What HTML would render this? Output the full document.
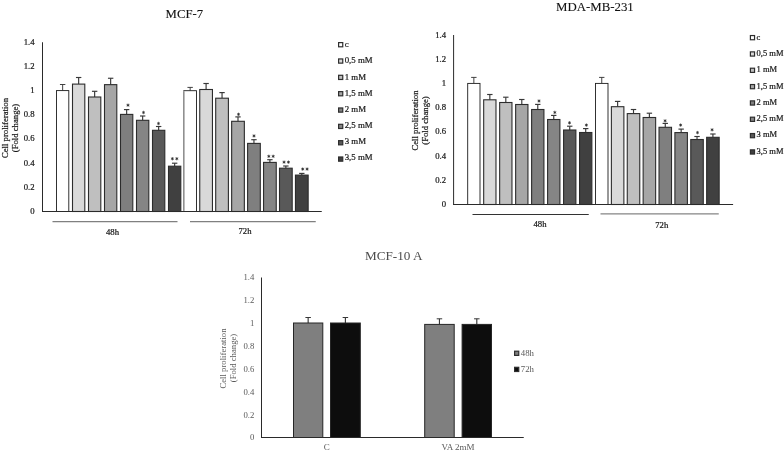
<!DOCTYPE html>
<html><head><meta charset="utf-8"><title>Cell proliferation</title>
<style>
html,body{margin:0;padding:0;background:#fff;}
body{width:784px;height:453px;overflow:hidden;font-family:"Liberation Serif",serif;}
svg{display:block;filter:grayscale(1);}
svg text{font-family:"Liberation Serif",serif;}
</style></head>
<body>
<svg width="784" height="453" viewBox="0 0 784 453">
<rect x="0" y="0" width="784" height="453" fill="#ffffff"/>
<text x="184.4" y="17.9" font-size="12.75" text-anchor="middle" fill="#111" stroke="#111" stroke-width="0.1" >MCF-7</text>
<text x="34.6" y="44.85" font-size="8.7" text-anchor="end" fill="#1a1a1a" stroke="#1a1a1a" stroke-width="0.22" >1.4</text>
<text x="34.6" y="68.99" font-size="8.7" text-anchor="end" fill="#1a1a1a" stroke="#1a1a1a" stroke-width="0.22" >1.2</text>
<text x="34.6" y="93.12" font-size="8.7" text-anchor="end" fill="#1a1a1a" stroke="#1a1a1a" stroke-width="0.22" >1</text>
<text x="34.6" y="117.26" font-size="8.7" text-anchor="end" fill="#1a1a1a" stroke="#1a1a1a" stroke-width="0.22" >0.8</text>
<text x="34.6" y="141.39" font-size="8.7" text-anchor="end" fill="#1a1a1a" stroke="#1a1a1a" stroke-width="0.22" >0.6</text>
<text x="34.6" y="165.53" font-size="8.7" text-anchor="end" fill="#1a1a1a" stroke="#1a1a1a" stroke-width="0.22" >0.4</text>
<text x="34.6" y="189.66" font-size="8.7" text-anchor="end" fill="#1a1a1a" stroke="#1a1a1a" stroke-width="0.22" >0.2</text>
<text x="34.6" y="213.8" font-size="8.7" text-anchor="end" fill="#1a1a1a" stroke="#1a1a1a" stroke-width="0.22" >0</text>
<line x1="62.65" y1="90.6" x2="62.65" y2="84.5" stroke="#383838" stroke-width="0.95"/>
<line x1="59.95" y1="84.5" x2="65.35" y2="84.5" stroke="#383838" stroke-width="0.95"/>
<rect x="56.5" y="90.6" width="12.3" height="120.9" fill="#ffffff" stroke="#1c1c1c" stroke-width="0.9"/>
<line x1="78.65" y1="84.1" x2="78.65" y2="77.5" stroke="#383838" stroke-width="1.15"/>
<line x1="75.95" y1="77.5" x2="81.35" y2="77.5" stroke="#383838" stroke-width="1.15"/>
<rect x="72.5" y="84.1" width="12.3" height="127.4" fill="#d9d9d9" stroke="#2c2c2c" stroke-width="1.1"/>
<line x1="94.65" y1="97.0" x2="94.65" y2="91.3" stroke="#383838" stroke-width="1.15"/>
<line x1="91.95" y1="91.3" x2="97.35" y2="91.3" stroke="#383838" stroke-width="1.15"/>
<rect x="88.5" y="97.0" width="12.3" height="114.5" fill="#bfbfbf" stroke="#2c2c2c" stroke-width="1.1"/>
<line x1="110.65" y1="84.65" x2="110.65" y2="78.25" stroke="#383838" stroke-width="1.15"/>
<line x1="107.95" y1="78.25" x2="113.35" y2="78.25" stroke="#383838" stroke-width="1.15"/>
<rect x="104.5" y="84.65" width="12.3" height="126.85" fill="#a6a6a6" stroke="#2c2c2c" stroke-width="1.1"/>
<line x1="126.65" y1="114.4" x2="126.65" y2="109.6" stroke="#383838" stroke-width="1.15"/>
<line x1="123.95" y1="109.6" x2="129.35" y2="109.6" stroke="#383838" stroke-width="1.15"/>
<rect x="120.5" y="114.4" width="12.3" height="97.1" fill="#7f7f7f" stroke="#2c2c2c" stroke-width="1.1"/>
<line x1="142.65" y1="120.3" x2="142.65" y2="116.0" stroke="#383838" stroke-width="1.15"/>
<line x1="139.95" y1="116.0" x2="145.35" y2="116.0" stroke="#383838" stroke-width="1.15"/>
<rect x="136.5" y="120.3" width="12.3" height="91.2" fill="#858585" stroke="#2c2c2c" stroke-width="1.1"/>
<line x1="158.65" y1="130.3" x2="158.65" y2="126.5" stroke="#383838" stroke-width="1.15"/>
<line x1="155.95" y1="126.5" x2="161.35" y2="126.5" stroke="#383838" stroke-width="1.15"/>
<rect x="152.5" y="130.3" width="12.3" height="81.2" fill="#595959" stroke="#2c2c2c" stroke-width="1.1"/>
<line x1="174.65" y1="166.2" x2="174.65" y2="163.2" stroke="#383838" stroke-width="1.15"/>
<line x1="171.95" y1="163.2" x2="177.35" y2="163.2" stroke="#383838" stroke-width="1.15"/>
<rect x="168.5" y="166.2" width="12.3" height="45.3" fill="#404040" stroke="#2c2c2c" stroke-width="1.1"/>
<line x1="190.15" y1="90.7" x2="190.15" y2="87.4" stroke="#383838" stroke-width="0.95"/>
<line x1="187.45" y1="87.4" x2="192.85" y2="87.4" stroke="#383838" stroke-width="0.95"/>
<rect x="183.8" y="90.7" width="12.7" height="120.8" fill="#ffffff" stroke="#1c1c1c" stroke-width="0.9"/>
<line x1="183.8" y1="91.3" x2="183.8" y2="210.9" stroke="#ffffff" stroke-width="1.3"/>
<line x1="183.8" y1="91.3" x2="183.8" y2="210.9" stroke="#6a6a6a" stroke-width="1.0"/>
<line x1="206.1" y1="89.5" x2="206.1" y2="83.5" stroke="#383838" stroke-width="1.15"/>
<line x1="203.4" y1="83.5" x2="208.8" y2="83.5" stroke="#383838" stroke-width="1.15"/>
<rect x="199.75" y="89.5" width="12.7" height="122.0" fill="#d9d9d9" stroke="#2c2c2c" stroke-width="1.1"/>
<line x1="222.05" y1="98.2" x2="222.05" y2="92.6" stroke="#383838" stroke-width="1.15"/>
<line x1="219.35" y1="92.6" x2="224.75" y2="92.6" stroke="#383838" stroke-width="1.15"/>
<rect x="215.7" y="98.2" width="12.7" height="113.3" fill="#bfbfbf" stroke="#2c2c2c" stroke-width="1.1"/>
<line x1="238.0" y1="121.3" x2="238.0" y2="116.9" stroke="#383838" stroke-width="1.15"/>
<line x1="235.3" y1="116.9" x2="240.7" y2="116.9" stroke="#383838" stroke-width="1.15"/>
<rect x="231.65" y="121.3" width="12.7" height="90.2" fill="#a6a6a6" stroke="#2c2c2c" stroke-width="1.1"/>
<line x1="253.95" y1="143.4" x2="253.95" y2="139.7" stroke="#383838" stroke-width="1.15"/>
<line x1="251.25" y1="139.7" x2="256.65" y2="139.7" stroke="#383838" stroke-width="1.15"/>
<rect x="247.6" y="143.4" width="12.7" height="68.1" fill="#7f7f7f" stroke="#2c2c2c" stroke-width="1.1"/>
<line x1="269.9" y1="162.4" x2="269.9" y2="159.7" stroke="#383838" stroke-width="1.15"/>
<line x1="267.2" y1="159.7" x2="272.6" y2="159.7" stroke="#383838" stroke-width="1.15"/>
<rect x="263.55" y="162.4" width="12.7" height="49.1" fill="#858585" stroke="#2c2c2c" stroke-width="1.1"/>
<line x1="285.85" y1="168.2" x2="285.85" y2="166.0" stroke="#383838" stroke-width="1.15"/>
<line x1="283.15" y1="166.0" x2="288.55" y2="166.0" stroke="#383838" stroke-width="1.15"/>
<rect x="279.5" y="168.2" width="12.7" height="43.3" fill="#595959" stroke="#2c2c2c" stroke-width="1.1"/>
<line x1="301.8" y1="175.1" x2="301.8" y2="173.4" stroke="#383838" stroke-width="1.15"/>
<line x1="299.1" y1="173.4" x2="304.5" y2="173.4" stroke="#383838" stroke-width="1.15"/>
<rect x="295.45" y="175.1" width="12.7" height="36.4" fill="#404040" stroke="#2c2c2c" stroke-width="1.1"/>
<line x1="42.5" y1="42.25" x2="42.5" y2="212.0" stroke="#2a2a2a" stroke-width="1"/>
<line x1="42" y1="211.5" x2="321.75" y2="211.5" stroke="#2a2a2a" stroke-width="1"/>
<line x1="52.5" y1="221.5" x2="177.5" y2="221.5" stroke="#808080" stroke-width="1.25"/>
<line x1="190" y1="221.5" x2="315.75" y2="221.5" stroke="#808080" stroke-width="1.25"/>
<text x="112.5" y="234.6" font-size="8.7" text-anchor="middle" fill="#1a1a1a" stroke="#1a1a1a" stroke-width="0.22" >48h</text>
<text x="245" y="233.6" font-size="8.7" text-anchor="middle" fill="#1a1a1a" stroke="#1a1a1a" stroke-width="0.22" >72h</text>
<text transform="translate(7.5,128) rotate(-90)" font-size="8.7" text-anchor="middle" fill="#1a1a1a" stroke="#1a1a1a" stroke-width="0.22">Cell proliferation</text>
<text transform="translate(17.5,128) rotate(-90)" font-size="8.7" text-anchor="middle" fill="#1a1a1a" stroke="#1a1a1a" stroke-width="0.22">(Fold change)</text>
<path d="M128.00 105.20L128.00 103.90M128.00 105.20L126.87 104.55M128.00 105.20L126.87 105.85M128.00 105.20L128.00 106.50M128.00 105.20L129.13 105.85M128.00 105.20L129.13 104.55" stroke="#333333" stroke-width="0.7" stroke-linecap="round" fill="none"/>
<circle cx="128.00" cy="105.20" r="0.75" fill="#333333"/>
<path d="M143.50 112.50L143.50 111.20M143.50 112.50L142.37 111.85M143.50 112.50L142.37 113.15M143.50 112.50L143.50 113.80M143.50 112.50L144.63 113.15M143.50 112.50L144.63 111.85" stroke="#333333" stroke-width="0.7" stroke-linecap="round" fill="none"/>
<circle cx="143.50" cy="112.50" r="0.75" fill="#333333"/>
<path d="M158.50 123.50L158.50 122.20M158.50 123.50L157.37 122.85M158.50 123.50L157.37 124.15M158.50 123.50L158.50 124.80M158.50 123.50L159.63 124.15M158.50 123.50L159.63 122.85" stroke="#333333" stroke-width="0.7" stroke-linecap="round" fill="none"/>
<circle cx="158.50" cy="123.50" r="0.75" fill="#333333"/>
<path d="M172.40 158.70L172.40 157.40M172.40 158.70L171.27 158.05M172.40 158.70L171.27 159.35M172.40 158.70L172.40 160.00M172.40 158.70L173.53 159.35M172.40 158.70L173.53 158.05" stroke="#333333" stroke-width="0.7" stroke-linecap="round" fill="none"/>
<circle cx="172.40" cy="158.70" r="0.75" fill="#333333"/>
<path d="M176.80 158.70L176.80 157.40M176.80 158.70L175.67 158.05M176.80 158.70L175.67 159.35M176.80 158.70L176.80 160.00M176.80 158.70L177.93 159.35M176.80 158.70L177.93 158.05" stroke="#333333" stroke-width="0.7" stroke-linecap="round" fill="none"/>
<circle cx="176.80" cy="158.70" r="0.75" fill="#333333"/>
<path d="M238.50 114.35L238.50 113.05M238.50 114.35L237.37 113.70M238.50 114.35L237.37 115.00M238.50 114.35L238.50 115.65M238.50 114.35L239.63 115.00M238.50 114.35L239.63 113.70" stroke="#333333" stroke-width="0.7" stroke-linecap="round" fill="none"/>
<circle cx="238.50" cy="114.35" r="0.75" fill="#333333"/>
<path d="M254.00 135.90L254.00 134.60M254.00 135.90L252.87 135.25M254.00 135.90L252.87 136.55M254.00 135.90L254.00 137.20M254.00 135.90L255.13 136.55M254.00 135.90L255.13 135.25" stroke="#333333" stroke-width="0.7" stroke-linecap="round" fill="none"/>
<circle cx="254.00" cy="135.90" r="0.75" fill="#333333"/>
<path d="M268.80 156.35L268.80 155.05M268.80 156.35L267.67 155.70M268.80 156.35L267.67 157.00M268.80 156.35L268.80 157.65M268.80 156.35L269.93 157.00M268.80 156.35L269.93 155.70" stroke="#333333" stroke-width="0.7" stroke-linecap="round" fill="none"/>
<circle cx="268.80" cy="156.35" r="0.75" fill="#333333"/>
<path d="M273.20 156.35L273.20 155.05M273.20 156.35L272.07 155.70M273.20 156.35L272.07 157.00M273.20 156.35L273.20 157.65M273.20 156.35L274.33 157.00M273.20 156.35L274.33 155.70" stroke="#333333" stroke-width="0.7" stroke-linecap="round" fill="none"/>
<circle cx="273.20" cy="156.35" r="0.75" fill="#333333"/>
<path d="M284.05 162.15L284.05 160.85M284.05 162.15L282.92 161.50M284.05 162.15L282.92 162.80M284.05 162.15L284.05 163.45M284.05 162.15L285.18 162.80M284.05 162.15L285.18 161.50" stroke="#333333" stroke-width="0.7" stroke-linecap="round" fill="none"/>
<circle cx="284.05" cy="162.15" r="0.75" fill="#333333"/>
<path d="M288.45 162.15L288.45 160.85M288.45 162.15L287.32 161.50M288.45 162.15L287.32 162.80M288.45 162.15L288.45 163.45M288.45 162.15L289.58 162.80M288.45 162.15L289.58 161.50" stroke="#333333" stroke-width="0.7" stroke-linecap="round" fill="none"/>
<circle cx="288.45" cy="162.15" r="0.75" fill="#333333"/>
<path d="M302.70 169.10L302.70 167.80M302.70 169.10L301.57 168.45M302.70 169.10L301.57 169.75M302.70 169.10L302.70 170.40M302.70 169.10L303.83 169.75M302.70 169.10L303.83 168.45" stroke="#333333" stroke-width="0.7" stroke-linecap="round" fill="none"/>
<circle cx="302.70" cy="169.10" r="0.75" fill="#333333"/>
<path d="M307.10 169.10L307.10 167.80M307.10 169.10L305.97 168.45M307.10 169.10L305.97 169.75M307.10 169.10L307.10 170.40M307.10 169.10L308.23 169.75M307.10 169.10L308.23 168.45" stroke="#333333" stroke-width="0.7" stroke-linecap="round" fill="none"/>
<circle cx="307.10" cy="169.10" r="0.75" fill="#333333"/>
<rect x="338.6" y="42.6" width="4.15" height="4.2" fill="#ffffff" stroke="#2e2e2e" stroke-width="1.2"/>
<text x="344.7" y="46.6" font-size="8.8" text-anchor="start" fill="#1a1a1a" stroke="#1a1a1a" stroke-width="0.22" >c</text>
<rect x="338.6" y="58.94" width="4.15" height="4.2" fill="#d9d9d9" stroke="#2e2e2e" stroke-width="1.2"/>
<text x="344.7" y="63.0" font-size="8.8" text-anchor="start" fill="#1a1a1a" stroke="#1a1a1a" stroke-width="0.22" >0,5 mM</text>
<rect x="338.6" y="75.28" width="4.15" height="4.2" fill="#bfbfbf" stroke="#2e2e2e" stroke-width="1.2"/>
<text x="344.7" y="79.5" font-size="8.8" text-anchor="start" fill="#1a1a1a" stroke="#1a1a1a" stroke-width="0.22" >1 mM</text>
<rect x="338.6" y="91.62" width="4.15" height="4.2" fill="#a6a6a6" stroke="#2e2e2e" stroke-width="1.2"/>
<text x="344.7" y="95.7" font-size="8.8" text-anchor="start" fill="#1a1a1a" stroke="#1a1a1a" stroke-width="0.22" >1,5 mM</text>
<rect x="338.6" y="107.96" width="4.15" height="4.2" fill="#7f7f7f" stroke="#2e2e2e" stroke-width="1.2"/>
<text x="344.7" y="111.9" font-size="8.8" text-anchor="start" fill="#1a1a1a" stroke="#1a1a1a" stroke-width="0.22" >2 mM</text>
<rect x="338.6" y="124.3" width="4.15" height="4.2" fill="#858585" stroke="#2e2e2e" stroke-width="1.2"/>
<text x="344.7" y="128.0" font-size="8.8" text-anchor="start" fill="#1a1a1a" stroke="#1a1a1a" stroke-width="0.22" >2,5 mM</text>
<rect x="338.6" y="140.64" width="4.15" height="4.2" fill="#595959" stroke="#2e2e2e" stroke-width="1.2"/>
<text x="344.7" y="143.9" font-size="8.8" text-anchor="start" fill="#1a1a1a" stroke="#1a1a1a" stroke-width="0.22" >3 mM</text>
<rect x="338.6" y="156.98" width="4.15" height="4.2" fill="#404040" stroke="#2e2e2e" stroke-width="1.2"/>
<text x="344.7" y="160.3" font-size="8.8" text-anchor="start" fill="#1a1a1a" stroke="#1a1a1a" stroke-width="0.22" >3,5 mM</text>
<text x="594.9" y="11.0" font-size="12.85" text-anchor="middle" fill="#111" stroke="#111" stroke-width="0.1" >MDA-MB-231</text>
<text x="446.0" y="37.5" font-size="8.7" text-anchor="end" fill="#1a1a1a" stroke="#1a1a1a" stroke-width="0.22" >1.4</text>
<text x="446.0" y="61.71" font-size="8.7" text-anchor="end" fill="#1a1a1a" stroke="#1a1a1a" stroke-width="0.22" >1.2</text>
<text x="446.0" y="85.93" font-size="8.7" text-anchor="end" fill="#1a1a1a" stroke="#1a1a1a" stroke-width="0.22" >1</text>
<text x="446.0" y="110.14" font-size="8.7" text-anchor="end" fill="#1a1a1a" stroke="#1a1a1a" stroke-width="0.22" >0.8</text>
<text x="446.0" y="134.36" font-size="8.7" text-anchor="end" fill="#1a1a1a" stroke="#1a1a1a" stroke-width="0.22" >0.6</text>
<text x="446.0" y="158.57" font-size="8.7" text-anchor="end" fill="#1a1a1a" stroke="#1a1a1a" stroke-width="0.22" >0.4</text>
<text x="446.0" y="182.79" font-size="8.7" text-anchor="end" fill="#1a1a1a" stroke="#1a1a1a" stroke-width="0.22" >0.2</text>
<text x="446.0" y="207.0" font-size="8.7" text-anchor="end" fill="#1a1a1a" stroke="#1a1a1a" stroke-width="0.22" >0</text>
<line x1="473.85" y1="83.4" x2="473.85" y2="77.4" stroke="#383838" stroke-width="0.95"/>
<line x1="471.15" y1="77.4" x2="476.55" y2="77.4" stroke="#383838" stroke-width="0.95"/>
<rect x="467.7" y="83.4" width="12.3" height="121.1" fill="#ffffff" stroke="#1c1c1c" stroke-width="0.9"/>
<line x1="489.83" y1="99.8" x2="489.83" y2="94.5" stroke="#383838" stroke-width="1.15"/>
<line x1="487.13" y1="94.5" x2="492.53" y2="94.5" stroke="#383838" stroke-width="1.15"/>
<rect x="483.68" y="99.8" width="12.3" height="104.7" fill="#d9d9d9" stroke="#2c2c2c" stroke-width="1.1"/>
<line x1="505.81" y1="102.5" x2="505.81" y2="97.2" stroke="#383838" stroke-width="1.15"/>
<line x1="503.11" y1="97.2" x2="508.51" y2="97.2" stroke="#383838" stroke-width="1.15"/>
<rect x="499.66" y="102.5" width="12.3" height="102.0" fill="#bfbfbf" stroke="#2c2c2c" stroke-width="1.1"/>
<line x1="521.79" y1="104.5" x2="521.79" y2="99.5" stroke="#383838" stroke-width="1.15"/>
<line x1="519.09" y1="99.5" x2="524.49" y2="99.5" stroke="#383838" stroke-width="1.15"/>
<rect x="515.64" y="104.5" width="12.3" height="100.0" fill="#a6a6a6" stroke="#2c2c2c" stroke-width="1.1"/>
<line x1="537.77" y1="109.5" x2="537.77" y2="104.4" stroke="#383838" stroke-width="1.15"/>
<line x1="535.07" y1="104.4" x2="540.47" y2="104.4" stroke="#383838" stroke-width="1.15"/>
<rect x="531.62" y="109.5" width="12.3" height="95.0" fill="#7f7f7f" stroke="#2c2c2c" stroke-width="1.1"/>
<line x1="553.75" y1="119.5" x2="553.75" y2="115.4" stroke="#383838" stroke-width="1.15"/>
<line x1="551.05" y1="115.4" x2="556.45" y2="115.4" stroke="#383838" stroke-width="1.15"/>
<rect x="547.6" y="119.5" width="12.3" height="85.0" fill="#858585" stroke="#2c2c2c" stroke-width="1.1"/>
<line x1="569.73" y1="130.0" x2="569.73" y2="126.2" stroke="#383838" stroke-width="1.15"/>
<line x1="567.03" y1="126.2" x2="572.43" y2="126.2" stroke="#383838" stroke-width="1.15"/>
<rect x="563.58" y="130.0" width="12.3" height="74.5" fill="#595959" stroke="#2c2c2c" stroke-width="1.1"/>
<line x1="585.71" y1="132.5" x2="585.71" y2="128.6" stroke="#383838" stroke-width="1.15"/>
<line x1="583.01" y1="128.6" x2="588.41" y2="128.6" stroke="#383838" stroke-width="1.15"/>
<rect x="579.56" y="132.5" width="12.3" height="72.0" fill="#404040" stroke="#2c2c2c" stroke-width="1.1"/>
<line x1="601.75" y1="83.4" x2="601.75" y2="77.4" stroke="#383838" stroke-width="0.95"/>
<line x1="599.05" y1="77.4" x2="604.45" y2="77.4" stroke="#383838" stroke-width="0.95"/>
<rect x="595.5" y="83.4" width="12.5" height="121.1" fill="#ffffff" stroke="#1c1c1c" stroke-width="0.9"/>
<line x1="617.63" y1="106.7" x2="617.63" y2="101.4" stroke="#383838" stroke-width="1.15"/>
<line x1="614.93" y1="101.4" x2="620.33" y2="101.4" stroke="#383838" stroke-width="1.15"/>
<rect x="611.38" y="106.7" width="12.5" height="97.8" fill="#d9d9d9" stroke="#2c2c2c" stroke-width="1.1"/>
<line x1="633.51" y1="113.6" x2="633.51" y2="109.5" stroke="#383838" stroke-width="1.15"/>
<line x1="630.81" y1="109.5" x2="636.21" y2="109.5" stroke="#383838" stroke-width="1.15"/>
<rect x="627.26" y="113.6" width="12.5" height="90.9" fill="#bfbfbf" stroke="#2c2c2c" stroke-width="1.1"/>
<line x1="649.39" y1="117.5" x2="649.39" y2="113.2" stroke="#383838" stroke-width="1.15"/>
<line x1="646.69" y1="113.2" x2="652.09" y2="113.2" stroke="#383838" stroke-width="1.15"/>
<rect x="643.14" y="117.5" width="12.5" height="87.0" fill="#a6a6a6" stroke="#2c2c2c" stroke-width="1.1"/>
<line x1="665.27" y1="127.3" x2="665.27" y2="123.4" stroke="#383838" stroke-width="1.15"/>
<line x1="662.57" y1="123.4" x2="667.97" y2="123.4" stroke="#383838" stroke-width="1.15"/>
<rect x="659.02" y="127.3" width="12.5" height="77.2" fill="#7f7f7f" stroke="#2c2c2c" stroke-width="1.1"/>
<line x1="681.15" y1="132.6" x2="681.15" y2="129.1" stroke="#383838" stroke-width="1.15"/>
<line x1="678.45" y1="129.1" x2="683.85" y2="129.1" stroke="#383838" stroke-width="1.15"/>
<rect x="674.9" y="132.6" width="12.5" height="71.9" fill="#858585" stroke="#2c2c2c" stroke-width="1.1"/>
<line x1="697.03" y1="139.5" x2="697.03" y2="136.5" stroke="#383838" stroke-width="1.15"/>
<line x1="694.33" y1="136.5" x2="699.73" y2="136.5" stroke="#383838" stroke-width="1.15"/>
<rect x="690.78" y="139.5" width="12.5" height="65.0" fill="#595959" stroke="#2c2c2c" stroke-width="1.1"/>
<line x1="712.91" y1="137.3" x2="712.91" y2="134.0" stroke="#383838" stroke-width="1.15"/>
<line x1="710.21" y1="134.0" x2="715.61" y2="134.0" stroke="#383838" stroke-width="1.15"/>
<rect x="706.66" y="137.3" width="12.5" height="67.2" fill="#404040" stroke="#2c2c2c" stroke-width="1.1"/>
<line x1="453.6" y1="35.0" x2="453.6" y2="205.0" stroke="#2a2a2a" stroke-width="1"/>
<line x1="453.1" y1="204.5" x2="733.1" y2="204.5" stroke="#2a2a2a" stroke-width="1"/>
<line x1="472.5" y1="214.45" x2="588.75" y2="214.45" stroke="#333333" stroke-width="1.05"/>
<line x1="600.5" y1="213.8" x2="718.75" y2="213.8" stroke="#858585" stroke-width="1.2"/>
<text x="540" y="227.1" font-size="8.7" text-anchor="middle" fill="#1a1a1a" stroke="#1a1a1a" stroke-width="0.22" >48h</text>
<text x="661.75" y="228.4" font-size="8.7" text-anchor="middle" fill="#1a1a1a" stroke="#1a1a1a" stroke-width="0.22" >72h</text>
<text transform="translate(417.8,120.5) rotate(-90)" font-size="8.7" text-anchor="middle" fill="#1a1a1a" stroke="#1a1a1a" stroke-width="0.22">Cell proliferation</text>
<text transform="translate(427.8,120.5) rotate(-90)" font-size="8.7" text-anchor="middle" fill="#1a1a1a" stroke="#1a1a1a" stroke-width="0.22">(Fold change)</text>
<path d="M539.00 101.00L539.00 99.70M539.00 101.00L537.87 100.35M539.00 101.00L537.87 101.65M539.00 101.00L539.00 102.30M539.00 101.00L540.13 101.65M539.00 101.00L540.13 100.35" stroke="#333333" stroke-width="0.7" stroke-linecap="round" fill="none"/>
<circle cx="539.00" cy="101.00" r="0.75" fill="#333333"/>
<path d="M554.80 112.40L554.80 111.10M554.80 112.40L553.67 111.75M554.80 112.40L553.67 113.05M554.80 112.40L554.80 113.70M554.80 112.40L555.93 113.05M554.80 112.40L555.93 111.75" stroke="#333333" stroke-width="0.7" stroke-linecap="round" fill="none"/>
<circle cx="554.80" cy="112.40" r="0.75" fill="#333333"/>
<path d="M569.50 122.80L569.50 121.50M569.50 122.80L568.37 122.15M569.50 122.80L568.37 123.45M569.50 122.80L569.50 124.10M569.50 122.80L570.63 123.45M569.50 122.80L570.63 122.15" stroke="#333333" stroke-width="0.7" stroke-linecap="round" fill="none"/>
<circle cx="569.50" cy="122.80" r="0.75" fill="#333333"/>
<path d="M586.40 125.10L586.40 123.80M586.40 125.10L585.27 124.45M586.40 125.10L585.27 125.75M586.40 125.10L586.40 126.40M586.40 125.10L587.53 125.75M586.40 125.10L587.53 124.45" stroke="#333333" stroke-width="0.7" stroke-linecap="round" fill="none"/>
<circle cx="586.40" cy="125.10" r="0.75" fill="#333333"/>
<path d="M665.10 120.80L665.10 119.50M665.10 120.80L663.97 120.15M665.10 120.80L663.97 121.45M665.10 120.80L665.10 122.10M665.10 120.80L666.23 121.45M665.10 120.80L666.23 120.15" stroke="#333333" stroke-width="0.7" stroke-linecap="round" fill="none"/>
<circle cx="665.10" cy="120.80" r="0.75" fill="#333333"/>
<path d="M680.60 125.10L680.60 123.80M680.60 125.10L679.47 124.45M680.60 125.10L679.47 125.75M680.60 125.10L680.60 126.40M680.60 125.10L681.73 125.75M680.60 125.10L681.73 124.45" stroke="#333333" stroke-width="0.7" stroke-linecap="round" fill="none"/>
<circle cx="680.60" cy="125.10" r="0.75" fill="#333333"/>
<path d="M697.50 132.60L697.50 131.30M697.50 132.60L696.37 131.95M697.50 132.60L696.37 133.25M697.50 132.60L697.50 133.90M697.50 132.60L698.63 133.25M697.50 132.60L698.63 131.95" stroke="#333333" stroke-width="0.7" stroke-linecap="round" fill="none"/>
<circle cx="697.50" cy="132.60" r="0.75" fill="#333333"/>
<path d="M712.10 129.80L712.10 128.50M712.10 129.80L710.97 129.15M712.10 129.80L710.97 130.45M712.10 129.80L712.10 131.10M712.10 129.80L713.23 130.45M712.10 129.80L713.23 129.15" stroke="#333333" stroke-width="0.7" stroke-linecap="round" fill="none"/>
<circle cx="712.10" cy="129.80" r="0.75" fill="#333333"/>
<rect x="750.4" y="35.55" width="4.15" height="4.2" fill="#ffffff" stroke="#2e2e2e" stroke-width="1.2"/>
<text x="756.6" y="39.8" font-size="8.5" text-anchor="start" fill="#1a1a1a" stroke="#1a1a1a" stroke-width="0.22" >c</text>
<rect x="750.4" y="51.88" width="4.15" height="4.2" fill="#d9d9d9" stroke="#2e2e2e" stroke-width="1.2"/>
<text x="756.6" y="56.05" font-size="8.5" text-anchor="start" fill="#1a1a1a" stroke="#1a1a1a" stroke-width="0.22" >0,5 mM</text>
<rect x="750.4" y="68.21" width="4.15" height="4.2" fill="#bfbfbf" stroke="#2e2e2e" stroke-width="1.2"/>
<text x="756.6" y="72.3" font-size="8.5" text-anchor="start" fill="#1a1a1a" stroke="#1a1a1a" stroke-width="0.22" >1 mM</text>
<rect x="750.4" y="84.54" width="4.15" height="4.2" fill="#a6a6a6" stroke="#2e2e2e" stroke-width="1.2"/>
<text x="756.6" y="88.55" font-size="8.5" text-anchor="start" fill="#1a1a1a" stroke="#1a1a1a" stroke-width="0.22" >1,5 mM</text>
<rect x="750.4" y="100.87" width="4.15" height="4.2" fill="#7f7f7f" stroke="#2e2e2e" stroke-width="1.2"/>
<text x="756.6" y="104.8" font-size="8.5" text-anchor="start" fill="#1a1a1a" stroke="#1a1a1a" stroke-width="0.22" >2 mM</text>
<rect x="750.4" y="117.2" width="4.15" height="4.2" fill="#858585" stroke="#2e2e2e" stroke-width="1.2"/>
<text x="756.6" y="121.05" font-size="8.5" text-anchor="start" fill="#1a1a1a" stroke="#1a1a1a" stroke-width="0.22" >2,5 mM</text>
<rect x="750.4" y="133.53" width="4.15" height="4.2" fill="#595959" stroke="#2e2e2e" stroke-width="1.2"/>
<text x="756.6" y="137.3" font-size="8.5" text-anchor="start" fill="#1a1a1a" stroke="#1a1a1a" stroke-width="0.22" >3 mM</text>
<rect x="750.4" y="149.86" width="4.15" height="4.2" fill="#404040" stroke="#2e2e2e" stroke-width="1.2"/>
<text x="756.6" y="153.55" font-size="8.5" text-anchor="start" fill="#1a1a1a" stroke="#1a1a1a" stroke-width="0.22" >3,5 mM</text>
<text x="393.75" y="260.2" font-size="13.2" text-anchor="middle" fill="#4d4d4d" stroke="#4d4d4d" stroke-width="0.0" >MCF-10 A</text>
<text x="254.3" y="280.4" font-size="8.7" text-anchor="end" fill="#595959" stroke="#595959" stroke-width="0.0" >1.4</text>
<text x="254.3" y="303.26" font-size="8.7" text-anchor="end" fill="#595959" stroke="#595959" stroke-width="0.0" >1.2</text>
<text x="254.3" y="326.11" font-size="8.7" text-anchor="end" fill="#595959" stroke="#595959" stroke-width="0.0" >1</text>
<text x="254.3" y="348.97" font-size="8.7" text-anchor="end" fill="#595959" stroke="#595959" stroke-width="0.0" >0.8</text>
<text x="254.3" y="371.83" font-size="8.7" text-anchor="end" fill="#595959" stroke="#595959" stroke-width="0.0" >0.6</text>
<text x="254.3" y="394.69" font-size="8.7" text-anchor="end" fill="#595959" stroke="#595959" stroke-width="0.0" >0.4</text>
<text x="254.3" y="417.54" font-size="8.7" text-anchor="end" fill="#595959" stroke="#595959" stroke-width="0.0" >0.2</text>
<text x="254.3" y="440.4" font-size="8.7" text-anchor="end" fill="#595959" stroke="#595959" stroke-width="0.0" >0</text>
<line x1="308.15" y1="323" x2="308.15" y2="317.5" stroke="#383838" stroke-width="1.15"/>
<line x1="305.4" y1="317.5" x2="310.9" y2="317.5" stroke="#383838" stroke-width="1"/>
<rect x="293.5" y="323" width="29.3" height="114.5" fill="#7f7f7f" stroke="#262626" stroke-width="1"/>
<line x1="345.4" y1="323" x2="345.4" y2="317.5" stroke="#383838" stroke-width="1.15"/>
<line x1="342.65" y1="317.5" x2="348.15" y2="317.5" stroke="#383838" stroke-width="1"/>
<rect x="330.5" y="323" width="29.8" height="114.5" fill="#0d0d0d" stroke="#262626" stroke-width="1"/>
<line x1="439.45" y1="324.4" x2="439.45" y2="318.8" stroke="#383838" stroke-width="1.15"/>
<line x1="436.7" y1="318.8" x2="442.2" y2="318.8" stroke="#383838" stroke-width="1"/>
<rect x="424.7" y="324.4" width="29.5" height="113.10000000000002" fill="#7f7f7f" stroke="#262626" stroke-width="1"/>
<line x1="476.8" y1="324.4" x2="476.8" y2="318.8" stroke="#383838" stroke-width="1.15"/>
<line x1="474.05" y1="318.8" x2="479.55" y2="318.8" stroke="#383838" stroke-width="1"/>
<rect x="462.1" y="324.4" width="29.4" height="113.10000000000002" fill="#0d0d0d" stroke="#262626" stroke-width="1"/>
<line x1="261.5" y1="277.5" x2="261.5" y2="438.0" stroke="#2a2a2a" stroke-width="1"/>
<line x1="261" y1="437.5" x2="523.75" y2="437.5" stroke="#2a2a2a" stroke-width="1"/>
<text x="326.75" y="450.4" font-size="9.0" text-anchor="middle" fill="#595959" stroke="#595959" stroke-width="0.0" >C</text>
<text x="458.0" y="450.4" font-size="9.0" text-anchor="middle" fill="#595959" stroke="#595959" stroke-width="0.0" >VA 2mM</text>
<text transform="translate(226.2,358.5) rotate(-90)" font-size="8.7" text-anchor="middle" fill="#595959" stroke="#595959" stroke-width="0.0">Cell proliferation</text>
<text transform="translate(236.0,358.0) rotate(-90)" font-size="8.7" text-anchor="middle" fill="#595959" stroke="#595959" stroke-width="0.0">(Fold change)</text>
<rect x="514.6" y="351.2" width="4.15" height="4.2" fill="#7f7f7f" stroke="#2e2e2e" stroke-width="1.2"/>
<text x="520.8" y="355.9" font-size="8.8" text-anchor="start" fill="#595959" stroke="#595959" stroke-width="0.0" >48h</text>
<rect x="514.6" y="367.3" width="4.15" height="4.2" fill="#0d0d0d" stroke="#2e2e2e" stroke-width="1.2"/>
<text x="520.8" y="372.0" font-size="8.8" text-anchor="start" fill="#595959" stroke="#595959" stroke-width="0.0" >72h</text>
</svg>
</body></html>
